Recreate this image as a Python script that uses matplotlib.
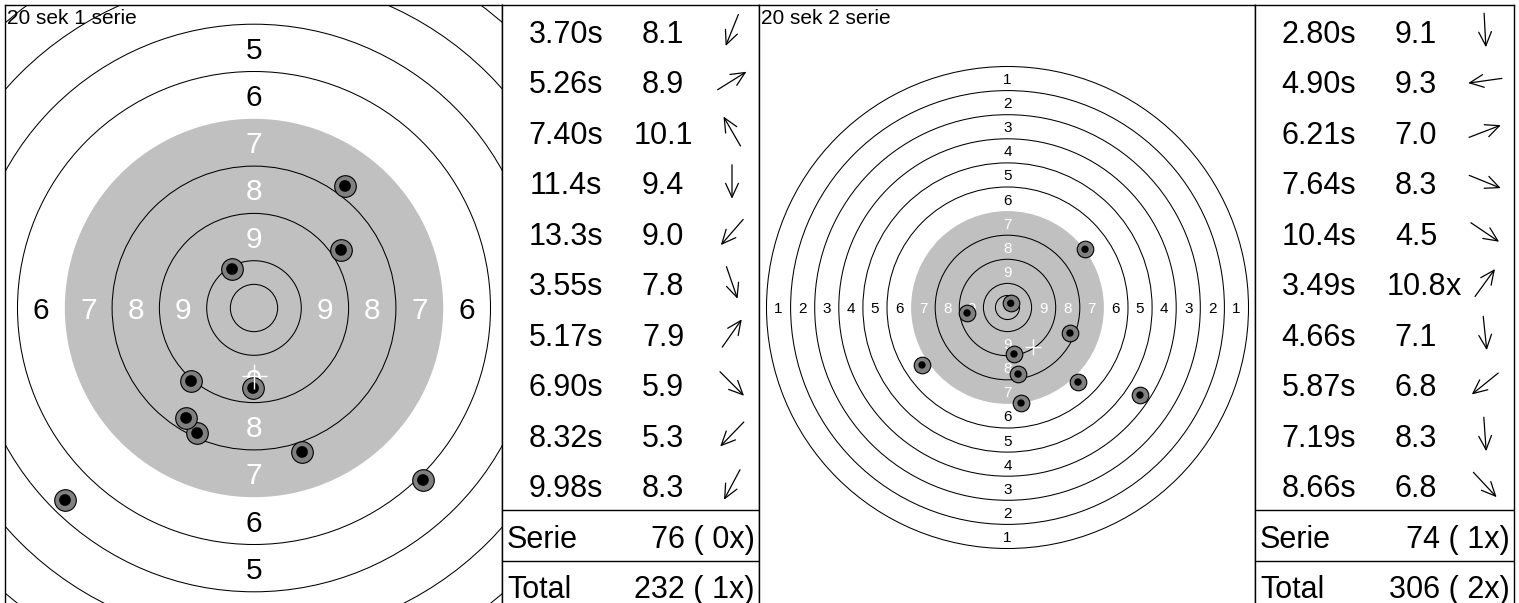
import matplotlib.pyplot as plt
from matplotlib.patches import Circle
import numpy as np

plt.rcParams['font.family'] = ['Liberation Sans', 'DejaVu Sans']

# --- data (treff i mm fra sentrum, x høyre / y opp) ---
titler = ["20 sek 1 serie", "20 sek 2 serie"]

tid_1 = ["3.70s", "5.26s", "7.40s", "11.4s", "13.3s", "3.55s", "5.17s", "6.90s", "8.32s", "9.98s"]
poeng_1 = ["8.1", "8.9", "10.1", "9.4", "9.0", "7.8", "7.9", "5.9", "5.3", "8.3"]
retning_1 = [-112, 32, 120, -90, -131, -71, 55, -45, -134, -118]
treff_x_1 = [-30.1, 46.0, -11.6, -0.5, -33.3, 25.4, 48.1, 89.3, -99.9, -35.9]
treff_y_1 = [-66.1, 30.7, 20.6, -42.3, -38.6, -76.1, 64.5, -90.9, -101.5, -58.1]
serie_1 = "76 ( 0x)"
total_1 = "232 ( 1x)"

tid_2 = ["2.80s", "4.90s", "6.21s", "7.64s", "10.4s", "3.49s", "4.66s", "5.87s", "7.19s", "8.66s"]
poeng_2 = ["9.1", "9.3", "7.0", "8.3", "4.5", "10.8x", "7.1", "6.8", "8.3", "6.8"]
retning_2 = [-87, -172, 21, -22, -34, 54, -84, -141, -86, -47]
treff_x_2 = [6.7, -42.0, 80.4, 64.8, 137.4, 3.3, 14.0, -88.7, 10.9, 73.1]
treff_y_2 = [-48.2, -5.7, 60.4, -26.5, -90.8, 4.4, -99.1, -59.6, -69.0, -77.3]
serie_2 = "74 ( 1x)"
total_2 = "306 ( 2x)"

# ringer (mm)
ring_radier = [12.5, 25, 50, 75, 125, 150, 175, 200, 225, 250]
sort_radius = 100

# --- oppsett i piksler ---
W, H = 1519, 603
TOPP, BUNN = 5, 611
RAD = (BUNN - TOPP) / 12

fig = plt.figure(figsize=(W / 100, H / 100), dpi=100)


def lag_akse(x0, x1):
    ax = fig.add_axes([x0 / W, (H - BUNN) / H, (x1 - x0) / W, (BUNN - TOPP) / H])
    ax.set_xticks([])
    ax.set_yticks([])
    for s in ax.spines.values():
        s.set_linewidth(1.0)
    return ax


def tekst(ax, x, y, s, size, **kw):
    # baseline-plassering slik at sifrene står midt på y
    return ax.annotate(s, xy=(x, y), xytext=(0, -0.36 * size * 100 / 72),
                       textcoords='offset pixels', va='baseline', fontsize=size, **kw)


def tegn_blink(x0, x1, cx, cy, skala, tittel, tx, ty, font_tall, s_ytre, s_indre, kryss):
    ax = lag_akse(x0, x1)
    ax.set_xlim((x0 - cx) / skala, (x1 - cx) / skala)
    ax.set_ylim((cy - BUNN) / skala, (cy - TOPP) / skala)
    ax.add_patch(Circle((0, 0), sort_radius, fc='#c0c0c0', ec='none', zorder=1))
    for r in ring_radier:
        ax.add_patch(Circle((0, 0), r, fill=False, ec='black', lw=0.75, zorder=2))
    for n in range(1, 10):
        d = (10.5 - n) * 25
        farge = 'white' if n >= 7 else 'black'
        for px, py in [(-d, 0), (d, 0), (0, d), (0, -d)]:
            t = tekst(ax, px, py, str(n), font_tall, ha='center', color=farge, zorder=3)
            t.set_clip_on(True)
    ax.scatter(tx, ty, s=s_ytre, c='#808080', edgecolors='black', linewidths=0.8, zorder=4)
    ax.scatter(tx, ty, s=s_indre, c='black', edgecolors='none', zorder=5)
    ax.plot(np.mean(tx), np.mean(ty), marker='+', ms=kryss, mew=1.0, color='white', zorder=6)
    ax.annotate(tittel, xy=(0, 1), xycoords='axes fraction', xytext=(2, -13),
                textcoords='offset pixels', ha='left', va='center', fontsize=15)


def tegn_tabell(x0, x1, tider, poeng, retning, serie, total):
    ax = lag_akse(x0, x1)
    bredde = x1 - x0
    ax.set_xlim(0, bredde)
    ax.set_ylim(BUNN - TOPP, 0)
    for i, (t, p, v) in enumerate(zip(tider, poeng, retning)):
        y = (i + 0.5) * RAD + 1.5
        tekst(ax, 64, y, t, 22, ha='center')
        tall = p.rstrip('x')
        txt = tekst(ax, 161, y, tall, 22, ha='center')
        if p.endswith('x'):
            ax.annotate('x', xy=(1, 0), xycoords=txt, ha='left', va='bottom', fontsize=22)
        a = np.radians(v)
        L = 34
        cx = 230
        y0 = (i + 0.5) * RAD
        hode = (cx + L / 2 * np.cos(a), y0 - L / 2 * np.sin(a))
        hale = (cx - L / 2 * np.cos(a), y0 + L / 2 * np.sin(a))
        ax.annotate('', xy=hode, xytext=hale,
                    arrowprops=dict(arrowstyle='->,head_length=0.5,head_width=0.23',
                                    mutation_scale=20, lw=0.9, color='black',
                                    shrinkA=0, shrinkB=0))
    for k in (10, 11):
        ax.axhline(k * RAD, color='black', lw=1.0)
    for k, navn, verdi in [(10, "Serie", serie), (11, "Total", total)]:
        y = (k + 0.5) * RAD + 1.5
        tekst(ax, 5, y, navn, 22, ha='left')
        tekst(ax, bredde - 4, y, verdi, 22, ha='right')


tegn_blink(5, 502, 254, 308, 47.3 / 25, titler[0], treff_x_1, treff_y_1, 21.5, 242, 71, 18)
tegn_tabell(502, 759, tid_1, poeng_1, retning_1, serie_1, total_1)
tegn_blink(759, 1255, 1007.5, 307.5, 24.1 / 25, titler[1], treff_x_2, treff_y_2, 11, 143, 28, 11.5)
tegn_tabell(1255, 1514, tid_2, poeng_2, retning_2, serie_2, total_2)

plt.savefig('out.png', dpi=100)
